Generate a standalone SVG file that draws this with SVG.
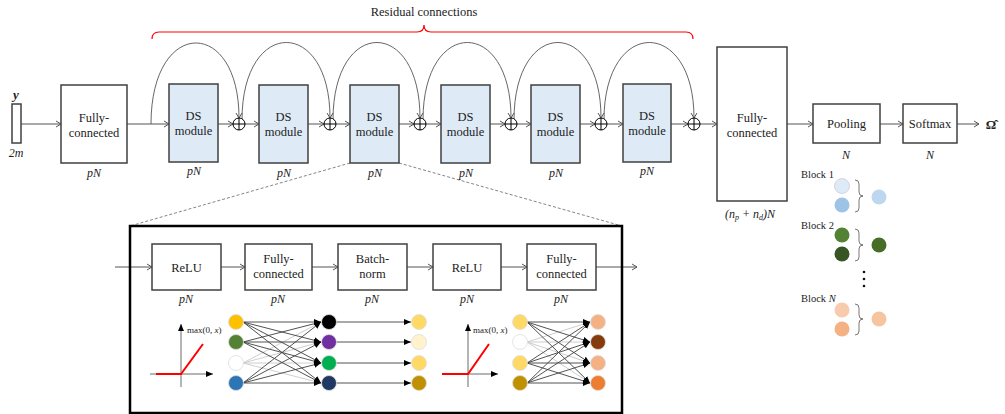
<svg xmlns="http://www.w3.org/2000/svg" width="1005" height="414" viewBox="0 0 1005 414" font-family="'Liberation Serif','DejaVu Serif',serif">
<defs>
<marker id="chev" markerUnits="userSpaceOnUse" markerWidth="8" markerHeight="8" refX="6" refY="4" orient="auto"><path d="M1,1 L6,4 L1,7" fill="none" stroke="#555" stroke-width="1"/></marker>
<marker id="tri" markerUnits="userSpaceOnUse" markerWidth="8" markerHeight="8" refX="7" refY="4" orient="auto"><path d="M0,1 L7,4 L0,7 Z" fill="#000"/></marker>
</defs>
<style>
text{font-family:'Liberation Serif','DejaVu Serif',serif;fill:#222}
.t{font-size:12.5px;text-anchor:middle}
.m{font-size:12px;font-style:italic;text-anchor:middle}
.s{font-size:9px}
.b{font-size:10.5px}
.box{fill:#fff;stroke:#404040;stroke-width:1.5}
.ds{fill:#DEEBF7;stroke:#404040;stroke-width:1.5}
.ln{fill:none;stroke:#555;stroke-width:1}
.arc{fill:none;stroke:#555;stroke-width:0.9}
.plus{fill:#fff;stroke:#000;stroke-width:1}
.dk{stroke:#404040;stroke-width:0.9;fill:none}
.lt{stroke:#C8C8C8;stroke-width:0.9;fill:none}
.nd{stroke:#ddd;stroke-width:0.8}
</style>

<g id="connectors">
<line class="ln" x1="21" y1="124" x2="61" y2="124" marker-end="url(#chev)"/>
<line class="ln" x1="127" y1="124" x2="169" y2="124" marker-end="url(#chev)"/>
<line class="ln" x1="218" y1="124" x2="233" y2="124" marker-end="url(#chev)"/>
<line class="ln" x1="245" y1="124" x2="259" y2="124" marker-end="url(#chev)"/>
<line class="ln" x1="308" y1="124" x2="324" y2="124" marker-end="url(#chev)"/>
<line class="ln" x1="336" y1="124" x2="350" y2="124" marker-end="url(#chev)"/>
<line class="ln" x1="399" y1="124" x2="414" y2="124" marker-end="url(#chev)"/>
<line class="ln" x1="426" y1="124" x2="441" y2="124" marker-end="url(#chev)"/>
<line class="ln" x1="490" y1="124" x2="505" y2="124" marker-end="url(#chev)"/>
<line class="ln" x1="517" y1="124" x2="531" y2="124" marker-end="url(#chev)"/>
<line class="ln" x1="580" y1="124" x2="595" y2="124" marker-end="url(#chev)"/>
<line class="ln" x1="607" y1="124" x2="623" y2="124" marker-end="url(#chev)"/>
<line class="ln" x1="671" y1="124" x2="688" y2="124" marker-end="url(#chev)"/>
<line class="ln" x1="700" y1="124" x2="717" y2="124" marker-end="url(#chev)"/>
<line class="ln" x1="787" y1="124" x2="813" y2="124" marker-end="url(#chev)"/>
<line class="ln" x1="880" y1="124" x2="903" y2="124" marker-end="url(#chev)"/>
<line class="ln" x1="957" y1="124" x2="979" y2="124" marker-end="url(#chev)"/>
<path class="arc" d="M151,124 C151,17 239,17 239,118" marker-end="url(#chev)"/>
<path class="arc" d="M242,120 C242,17 330,17 330,118" marker-end="url(#chev)"/>
<path class="arc" d="M333,120 C333,17 420,17 420,118" marker-end="url(#chev)"/>
<path class="arc" d="M423,120 C423,17 511,17 511,118" marker-end="url(#chev)"/>
<path class="arc" d="M514,120 C514,17 601,17 601,118" marker-end="url(#chev)"/>
<path class="arc" d="M604,120 C604,17 694,17 694,118" marker-end="url(#chev)"/>
<path d="M152,39 Q152,32 159,32 L417,32 Q424,32 424,25 Q424,32 431,32 L686,32 Q693,32 693,39" fill="none" stroke="#FF0000" stroke-width="1.2"/>
<line x1="350" y1="163" x2="130" y2="226" stroke="#666" stroke-width="0.8" stroke-dasharray="3,2"/>
<line x1="399" y1="163" x2="622" y2="226" stroke="#666" stroke-width="0.8" stroke-dasharray="3,2"/>
<line class="ln" x1="115" y1="267" x2="152" y2="267" marker-end="url(#chev)"/>
<line class="ln" x1="221" y1="267" x2="245" y2="267" marker-end="url(#chev)"/>
<line class="ln" x1="312" y1="267" x2="338" y2="267" marker-end="url(#chev)"/>
<line class="ln" x1="407" y1="267" x2="433" y2="267" marker-end="url(#chev)"/>
<line class="ln" x1="501" y1="267" x2="527" y2="267" marker-end="url(#chev)"/>
<line class="ln" x1="596" y1="267" x2="637" y2="267" marker-end="url(#chev)"/>
</g>

<g id="plus">
<g class="plus"><circle cx="239" cy="124" r="6"/><path d="M233,124 H245 M239,118 V130"/></g>
<g class="plus"><circle cx="330" cy="124" r="6"/><path d="M324,124 H336 M330,118 V130"/></g>
<g class="plus"><circle cx="420" cy="124" r="6"/><path d="M414,124 H426 M420,118 V130"/></g>
<g class="plus"><circle cx="511" cy="124" r="6"/><path d="M505,124 H517 M511,118 V130"/></g>
<g class="plus"><circle cx="601" cy="124" r="6"/><path d="M595,124 H607 M601,118 V130"/></g>
<g class="plus"><circle cx="694" cy="124" r="6"/><path d="M688,124 H700 M694,118 V130"/></g>
</g>

<text x="424" y="16" class="t">Residual connections</text>

<g id="input">
<rect x="12" y="104" width="9" height="39" class="box" stroke-width="1.2"/>
<text x="16" y="99" style="font-size:13px;font-weight:bold;font-style:italic;text-anchor:middle">y</text>
<text x="16" y="157" class="m">2m</text>
</g>
<g id="fc1">
<rect x="61" y="85" width="66" height="78" class="box"/>
<text x="94" y="122" class="t">Fully-</text><text x="94" y="137" class="t">connected</text>
<text x="94" y="177" class="m">pN</text>
</g>
<g id="ds1"><rect x="169" y="84" width="49" height="78" class="ds"/><text x="193.5" y="120" class="t">DS</text><text x="193.5" y="135" class="t">module</text><text x="194" y="175" class="m">pN</text></g>
<g id="ds2"><rect x="259" y="85" width="49" height="78" class="ds"/><text x="283.5" y="121" class="t">DS</text><text x="283.5" y="136" class="t">module</text><text x="284" y="177" class="m">pN</text></g>
<g id="ds3"><rect x="350" y="85" width="49" height="78" class="ds"/><text x="374.5" y="121" class="t">DS</text><text x="374.5" y="136" class="t">module</text><text x="375" y="177" class="m">pN</text></g>
<g id="ds4"><rect x="441" y="85" width="49" height="78" class="ds"/><text x="465.5" y="121" class="t">DS</text><text x="465.5" y="136" class="t">module</text><text x="466" y="177" class="m">pN</text></g>
<g id="ds5"><rect x="531" y="85" width="49" height="78" class="ds"/><text x="555.5" y="121" class="t">DS</text><text x="555.5" y="136" class="t">module</text><text x="556" y="177" class="m">pN</text></g>
<g id="ds6"><rect x="623" y="84" width="48" height="78" class="ds"/><text x="647" y="120" class="t">DS</text><text x="647" y="135" class="t">module</text><text x="647" y="175" class="m">pN</text></g>
<g id="fc2">
<rect x="717" y="47" width="70" height="154" class="box"/>
<text x="752" y="122" class="t">Fully-</text><text x="752" y="137" class="t">connected</text>
<text x="750" y="218" class="m">(n<tspan font-size="8" dy="2">p</tspan><tspan dy="-2"> + n</tspan><tspan font-size="8" dy="2">d</tspan><tspan dy="-2">)N</tspan></text>
</g>
<g id="pooling"><rect x="813" y="104" width="67" height="39" class="box"/><text x="846.5" y="128" class="t">Pooling</text><text x="846" y="159" class="m">N</text></g>
<g id="softmax"><rect x="903" y="104" width="54" height="39" class="box"/><text x="930" y="128" class="t">Softmax</text><text x="930" y="159" class="m">N</text></g>
<text x="991" y="129" style="font-size:13px;font-weight:bold;text-anchor:middle">Ω̂</text>

<g id="ds-detail">
<rect x="130" y="226" width="492" height="187" fill="none" stroke="#000" stroke-width="2.5"/>
<g id="relu1"><rect x="152" y="244" width="69" height="46" class="box"/><text x="186.5" y="272" class="t">ReLU</text><text x="186" y="303" class="m">pN</text></g>
<g id="fc-a"><rect x="245" y="244" width="67" height="46" class="box"/><text x="278.5" y="263" class="t">Fully-</text><text x="278.5" y="278" class="t">connected</text><text x="278" y="303" class="m">pN</text></g>
<g id="batchnorm"><rect x="338" y="244" width="69" height="46" class="box"/><text x="372.5" y="263" class="t">Batch-</text><text x="372.5" y="278" class="t">norm</text><text x="372" y="303" class="m">pN</text></g>
<g id="relu2"><rect x="433" y="244" width="68" height="46" class="box"/><text x="467" y="272" class="t">ReLU</text><text x="467" y="303" class="m">pN</text></g>
<g id="fc-b"><rect x="527" y="244" width="69" height="46" class="box"/><text x="561.5" y="263" class="t">Fully-</text><text x="561.5" y="278" class="t">connected</text><text x="561" y="303" class="m">pN</text></g>

<g id="relu-plot1">
<line x1="181" y1="387" x2="181" y2="324" stroke="#444" stroke-width="0.8" marker-end="url(#tri)"/>
<line x1="150" y1="374" x2="213" y2="374" stroke="#444" stroke-width="0.8" marker-end="url(#tri)"/>
<path d="M156,374 H181 L203,344" fill="none" stroke="#FF0000" stroke-width="2"/>
<text x="187" y="333" class="s">max(0, <tspan font-style="italic">x</tspan>)</text>
</g>
<g id="relu-plot2">
<line x1="468" y1="387" x2="468" y2="324" stroke="#444" stroke-width="0.8" marker-end="url(#tri)"/>
<line x1="442" y1="374" x2="498" y2="374" stroke="#444" stroke-width="0.8" marker-end="url(#tri)"/>
<path d="M442,374 H468 L489,344" fill="none" stroke="#FF0000" stroke-width="2"/>
<text x="473" y="333" class="s">max(0, <tspan font-style="italic">x</tspan>)</text>
</g>

<g id="net1-edges">
<path class="lt" d="M243,363 L321,322 M243,363 L321,342 M243,363 L321,363 M243,363 L321,383"/>
<line class="dk" x1="243" y1="322" x2="321" y2="322" marker-end="url(#tri)"/>
<line class="dk" x1="243" y1="322" x2="321" y2="342" marker-end="url(#tri)"/>
<line class="dk" x1="243" y1="322" x2="321" y2="363" marker-end="url(#tri)"/>
<line class="dk" x1="243" y1="322" x2="321" y2="383" marker-end="url(#tri)"/>
<line class="dk" x1="243" y1="342" x2="321" y2="322" marker-end="url(#tri)"/>
<line class="dk" x1="243" y1="342" x2="321" y2="342" marker-end="url(#tri)"/>
<line class="dk" x1="243" y1="342" x2="321" y2="363" marker-end="url(#tri)"/>
<line class="dk" x1="243" y1="342" x2="321" y2="383" marker-end="url(#tri)"/>
<line class="dk" x1="243" y1="383" x2="321" y2="322" marker-end="url(#tri)"/>
<line class="dk" x1="243" y1="383" x2="321" y2="342" marker-end="url(#tri)"/>
<line class="dk" x1="243" y1="383" x2="321" y2="363" marker-end="url(#tri)"/>
<line class="dk" x1="243" y1="383" x2="321" y2="383" marker-end="url(#tri)"/>
<line class="dk" x1="336" y1="322" x2="411" y2="322" marker-end="url(#tri)"/>
<line class="dk" x1="336" y1="342" x2="411" y2="342" marker-end="url(#tri)"/>
<line class="dk" x1="336" y1="363" x2="411" y2="363" marker-end="url(#tri)"/>
<line class="dk" x1="336" y1="383" x2="411" y2="383" marker-end="url(#tri)"/>
</g>
<g id="net2-edges">
<path class="lt" d="M527,342 L590,322 M527,342 L590,342 M527,342 L590,363 M527,342 L590,383"/>
<line class="dk" x1="527" y1="322" x2="590" y2="322" marker-end="url(#tri)"/>
<line class="dk" x1="527" y1="322" x2="590" y2="342" marker-end="url(#tri)"/>
<line class="dk" x1="527" y1="322" x2="590" y2="363" marker-end="url(#tri)"/>
<line class="dk" x1="527" y1="322" x2="590" y2="383" marker-end="url(#tri)"/>
<line class="dk" x1="527" y1="363" x2="590" y2="322" marker-end="url(#tri)"/>
<line class="dk" x1="527" y1="363" x2="590" y2="342" marker-end="url(#tri)"/>
<line class="dk" x1="527" y1="363" x2="590" y2="363" marker-end="url(#tri)"/>
<line class="dk" x1="527" y1="363" x2="590" y2="383" marker-end="url(#tri)"/>
<line class="dk" x1="527" y1="383" x2="590" y2="322" marker-end="url(#tri)"/>
<line class="dk" x1="527" y1="383" x2="590" y2="342" marker-end="url(#tri)"/>
<line class="dk" x1="527" y1="383" x2="590" y2="363" marker-end="url(#tri)"/>
<line class="dk" x1="527" y1="383" x2="590" y2="383" marker-end="url(#tri)"/>
</g>
<g id="net-nodes" class="nd">
<circle cx="236" cy="322" r="7.5" fill="#FFC000"/>
<circle cx="236" cy="342" r="7.5" fill="#548235"/>
<circle cx="236" cy="363" r="7.5" fill="#fff"/>
<circle cx="236" cy="383" r="7.5" fill="#2E75B6"/>
<circle cx="329" cy="322" r="7.5" fill="#000"/>
<circle cx="329" cy="342" r="7.5" fill="#7030A0"/>
<circle cx="329" cy="363" r="7.5" fill="#00B050"/>
<circle cx="329" cy="383" r="7.5" fill="#1F3864"/>
<circle cx="419" cy="322" r="7.5" fill="#FFD966"/>
<circle cx="419" cy="342" r="7.5" fill="#FFF2CC"/>
<circle cx="419" cy="363" r="7.5" fill="#FFD966"/>
<circle cx="419" cy="383" r="7.5" fill="#BF9000"/>
<circle cx="520" cy="322" r="7.5" fill="#FFD966"/>
<circle cx="520" cy="342" r="7.5" fill="#fff"/>
<circle cx="520" cy="363" r="7.5" fill="#FFD966"/>
<circle cx="520" cy="383" r="7.5" fill="#BF9000"/>
<circle cx="598" cy="322" r="7.5" fill="#F4B183"/>
<circle cx="598" cy="342" r="7.5" fill="#843C0C"/>
<circle cx="598" cy="363" r="7.5" fill="#F4B183"/>
<circle cx="598" cy="383" r="7.5" fill="#ED7D31"/>
</g>
</g>

<g id="blocks">
<g id="block1">
<text x="801" y="178" class="b">Block 1</text>
<circle cx="842" cy="186" r="7.5" fill="#DEEBF7" stroke="#ccd" stroke-width="0.8"/>
<circle cx="842" cy="205" r="7.5" fill="#9DC3E6"/>
<path d="M855,180 Q859,180 859,184 L859,192 Q859,196 863,196 Q859,196 859,200 L859,208 Q859,212 855,212" fill="none" stroke="#555" stroke-width="0.8"/>
<circle cx="879" cy="197" r="7.5" fill="#BDD7EE"/>
</g>
<g id="block2">
<text x="801" y="229" class="b">Block 2</text>
<circle cx="842" cy="235" r="7.5" fill="#548235"/>
<circle cx="842" cy="254" r="7.5" fill="#375623"/>
<path d="M855,229 Q859,229 859,233 L859,241 Q859,245 863,245 Q859,245 859,249 L859,257 Q859,261 855,261" fill="none" stroke="#555" stroke-width="0.8"/>
<circle cx="879" cy="245" r="7.5" fill="#466E27"/>
</g>
<g id="dots" fill="#111"><circle cx="864" cy="272" r="1.3"/><circle cx="864" cy="279" r="1.3"/><circle cx="864" cy="286" r="1.3"/></g>
<g id="blockN">
<text x="801" y="302" class="b">Block <tspan font-style="italic">N</tspan></text>
<circle cx="842" cy="310" r="7.5" fill="#F8CBAD"/>
<circle cx="842" cy="329" r="7.5" fill="#F4B183"/>
<path d="M855,304 Q859,304 859,308 L859,315 Q859,319 863,319 Q859,319 859,323 L859,331 Q859,335 855,335" fill="none" stroke="#555" stroke-width="0.8"/>
<circle cx="879" cy="319" r="7.5" fill="#F6C4A0"/>
</g>
</g>
</svg>
